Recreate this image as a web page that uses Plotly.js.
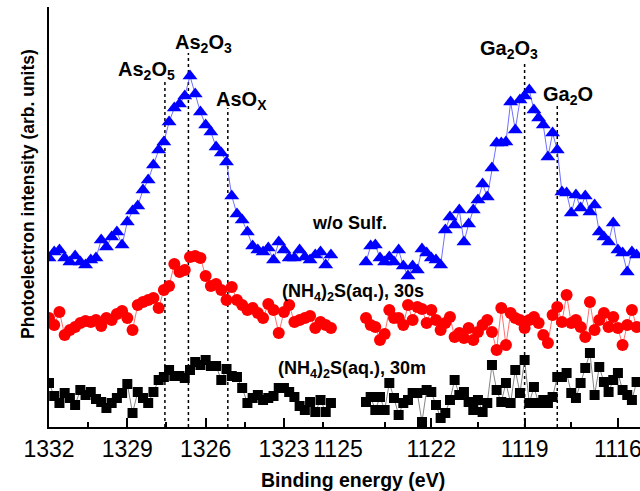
<!DOCTYPE html>
<html>
<head>
<meta charset="utf-8">
<script src="https://cdn.plot.ly/plotly-3.0.1.min.js"></script>
<style>html,body{margin:0;padding:0;background:#fff;}#chart{width:640px;height:491px;}</style>
</head>
<body>
<div id="chart"></div>
<script>
// Binding energies (eV), As 2p window and Ga 2p window
const energyAs = [1332.0,1331.8,1331.6,1331.4,1331.2,1331.0,1330.8,1330.6,1330.4,1330.2,1330.0,1329.8,1329.6,1329.4,1329.2,1329.0,1328.8,1328.6,1328.4,1328.2,1328.0,1327.8,1327.6,1327.4,1327.2,1327.0,1326.8,1326.6,1326.4,1326.2,1326.0,1325.8,1325.6,1325.4,1325.2,1325.0,1324.8,1324.6,1324.4,1324.2,1324.0,1323.8,1323.6,1323.4,1323.2,1323.0,1322.8,1322.6,1322.4,1322.2,1322.0,1321.8,1321.6,1321.4,1321.2];
const energyGa = [1124.1,1123.95,1123.8,1123.65,1123.5,1123.35,1123.2,1123.05,1122.9,1122.75,1122.6,1122.45,1122.3,1122.15,1122.0,1121.85,1121.7,1121.55,1121.4,1121.25,1121.1,1120.95,1120.8,1120.65,1120.5,1120.35,1120.2,1120.05,1119.9,1119.75,1119.6,1119.45,1119.3,1119.15,1119.0,1118.85,1118.7,1118.55,1118.4,1118.25,1118.1,1117.95,1117.8,1117.65,1117.5,1117.35,1117.2,1117.05,1116.9,1116.75,1116.6,1116.45,1116.3,1116.15,1116.0,1115.85,1115.7,1115.55,1115.4];

// Intensities (arb. units, offset stacked)
const noSulfAs = [169,175,177,169,165,171,165,162,167,169,187,180,190,195,182,205,216,221,237,247,262,277,285,305,319,323,331,351,333,315,302,295,280,274,265,231,213,207,195,181,177,175,179,167,185,177,169,169,177,170,167,172,175,162,172];
const sulf30sAs = [109,102,115,92,97,100,104,106,105,107,101,109,107,113,116,109,97,122,125,127,129,119,137,141,163,155,157,170,171,169,151,141,143,137,127,140,127,122,117,119,114,109,123,117,94,115,122,105,107,109,111,99,105,102,99];
const sulf30mAs = [44,31,24,34,29,22,37,32,35,28,25,19,24,29,34,43,14,35,29,24,35,47,50,57,51,51,49,57,65,62,67,61,61,47,58,51,50,39,24,29,32,27,29,31,39,39,35,30,21,17,25,15,27,15,24];

const noSulfGa = [165,181,182,169,165,170,165,177,161,151,161,157,178,174,169,167,162,197,210,202,217,185,203,217,227,243,230,259,284,284,285,325,297,327,331,337,317,309,302,270,294,277,235,234,214,232,219,231,215,222,195,190,185,204,177,174,155,175,172];
const sulf30sGa = [109,102,100,87,93,117,109,109,102,122,107,120,118,104,117,107,97,104,110,90,94,89,99,87,95,102,107,95,77,119,82,114,109,107,99,107,110,104,92,84,112,120,105,132,104,107,100,90,125,97,107,114,100,110,99,82,102,117,100];
const sulf30mGa = [25,30,17,30,17,44,29,12,24,27,34,34,5,37,35,22,9,14,27,47,32,35,25,17,27,15,24,62,37,25,44,24,57,34,67,24,40,24,27,24,30,50,50,54,34,29,44,59,74,32,60,45,35,47,54,37,32,27,45];

// Tick labels
const tickAs = [1332, 1329, 1326, 1323];
const minorAs = [1330.5, 1327.5, 1324.5, 1321.5];
const tickGa = [1125, 1122, 1119, 1116];
const minorGa = [1123.5, 1120.5, 1117.5];

// Chemical-state reference lines
const peakNames = ['As<sub>2</sub>O<sub>5</sub>', 'As<sub>2</sub>O<sub>3</sub>', 'AsO<sub>X</sub>', 'Ga<sub>2</sub>O<sub>3</sub>', 'Ga<sub>2</sub>O'];
const peakEnergies = [1327.56, 1326.66, 1325.15, 1119.0, 1117.95];
const peakLineTops = [345, 374, 319, 365, 322];

const seriesNames = ['w/o Sulf.', '(NH<sub>4</sub>)<sub>2</sub>S(aq.), 30s', '(NH<sub>4</sub>)<sub>2</sub>S(aq.), 30m'];

const FONT = 'Liberation Sans, Arial, Helvetica, sans-serif';

function tr(x, y, xa, color, symbol, size, lineColor) {
  return {x: x, y: y, xaxis: xa, yaxis: 'y', type: 'scatter', mode: 'lines+markers',
    line: {color: lineColor, width: 0.8},
    marker: {symbol: symbol, size: size, color: color, line: {width: 0}},
    showlegend: false, hoverinfo: 'skip'};
}

const data = [
  tr(energyAs, noSulfAs, 'x', '#0000ff', 'triangle-up', 13, '#4a4aff'),
  tr(energyGa, noSulfGa, 'x2', '#0000ff', 'triangle-up', 13, '#4a4aff'),
  tr(energyAs, sulf30sAs, 'x', '#ff0000', 'circle', 12, '#ff4a4a'),
  tr(energyGa, sulf30sGa, 'x2', '#ff0000', 'circle', 12, '#ff4a4a'),
  tr(energyAs, sulf30mAs, 'x', '#000000', 'square', 10, '#666666'),
  tr(energyGa, sulf30mGa, 'x2', '#000000', 'square', 10, '#666666')
];

function xax(domain, range, vals, minor) {
  return {domain: domain, range: range, anchor: 'y',
    showline: true, linewidth: 2, linecolor: '#000',
    ticks: 'inside', ticklen: 9, tickwidth: 2, tickcolor: '#000',
    tickmode: 'array', tickvals: vals, ticktext: vals.map(String),
    minor: {tickmode: 'array', tickvals: minor, ticks: 'inside', ticklen: 5, tickwidth: 2, tickcolor: '#000', showgrid: false},
    showgrid: false, zeroline: false, ticklabeloverflow: 'allow', ticklabelstandoff: 0,
    tickfont: {family: FONT, size: 23, color: '#000'}};
}

const shapes = peakEnergies.map((e, i) => ({
  type: 'line', xref: i < 3 ? 'x' : 'x2', yref: 'y', x0: e, x1: e, y0: 0, y1: peakLineTops[i],
  line: {color: '#000', width: 1.5, dash: 'dot'}, layer: 'below'
}));

const peakPos = [[1328.25, 357], [1326.1, 384], [1324.62, 327], [1119.5, 378], [1117.6, 332]];
const annotations = peakNames.map((t, i) => ({
  text: t, xref: i < 3 ? 'x' : 'x2', yref: 'y', x: peakPos[i][0], y: peakPos[i][1],
  showarrow: false, xanchor: 'center', yanchor: 'middle',
  font: {family: FONT, size: 20, color: '#000', weight: 'bold'}
}));

const seriesPos = [[0.5093, 0.486], [0.5152, 0.321], [0.512, 0.138]];
seriesNames.forEach((t, i) => annotations.push({
  text: t, xref: 'paper', yref: 'paper', x: seriesPos[i][0], y: seriesPos[i][1],
  showarrow: false, xanchor: 'center', yanchor: 'middle',
  font: {family: FONT, size: 18, color: '#000', weight: 'bold'}
}));

annotations.push({
  text: 'Binding energy (eV)', xref: 'paper', yref: 'paper', x: 0.515, y: -0.126,
  showarrow: false, xanchor: 'center', yanchor: 'middle',
  font: {family: FONT, size: 19.5, color: '#000', weight: 'bold'}
});
annotations.push({
  text: 'Photoelectron intensity (arb. units)', xref: 'paper', yref: 'paper', x: -0.0355, y: 0.555,
  showarrow: false, xanchor: 'center', yanchor: 'middle', textangle: -90,
  font: {family: FONT, size: 17.5, color: '#000', weight: 'bold'}
});

const layout = {
  width: 640, height: 491,
  margin: {l: 49, r: 0, t: 7, b: 64, pad: 0},
  paper_bgcolor: '#fff', plot_bgcolor: '#fff',
  showlegend: false,
  xaxis: xax([0, 0.489], [1332, 1320.93], tickAs, minorAs),
  xaxis2: xax([0.489, 1], [1125, 1115.29], tickGa, minorGa),
  yaxis: {range: [0, 420], showline: true, linewidth: 2, linecolor: '#000',
    ticks: '', showticklabels: false, showgrid: false, zeroline: false},
  shapes: shapes,
  annotations: annotations
};

Plotly.newPlot('chart', data, layout, {staticPlot: true, displayModeBar: false});
</script>
</body>
</html>
